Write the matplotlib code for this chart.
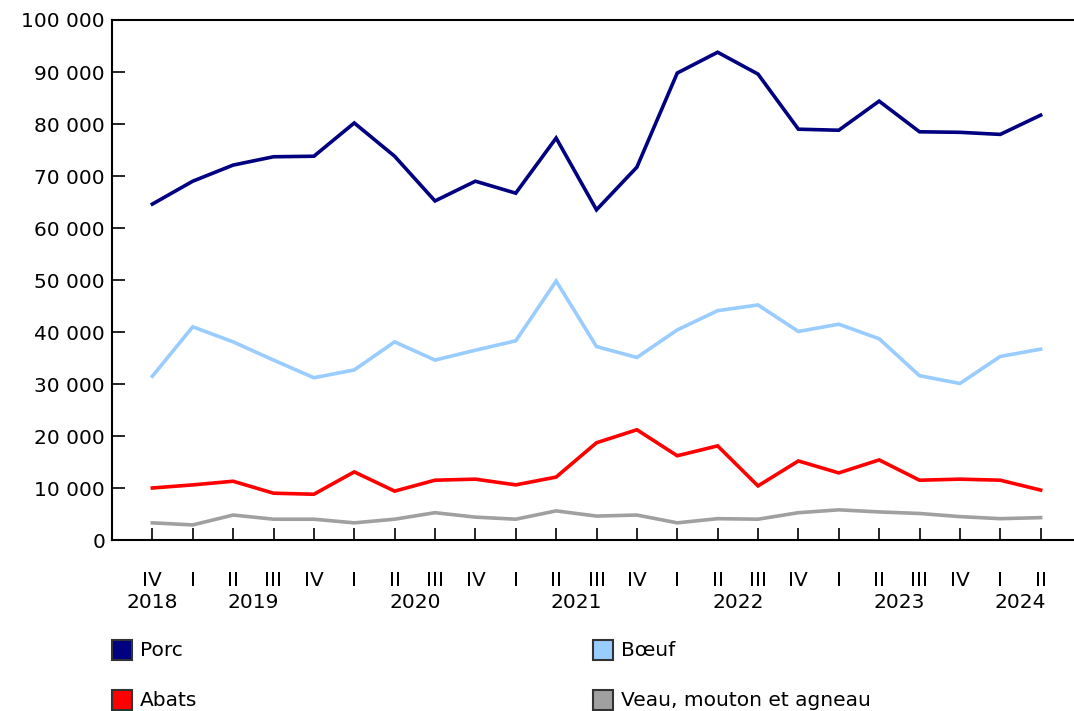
import matplotlib
matplotlib.use("Agg")
import matplotlib.pyplot as plt
from matplotlib.patches import Rectangle
from matplotlib.ticker import FuncFormatter

plt.rcParams['font.family'] = ['Verdana', 'DejaVu Sans']

quarters = ["IV", "I", "II", "III", "IV", "I", "II", "III", "IV", "I", "II", "III",
            "IV", "I", "II", "III", "IV", "I", "II", "III", "IV", "I", "II"]
years = ["2018", "2019", "2020", "2021", "2022", "2023", "2024"]
year_pos = [0, 2.5, 6.5, 10.5, 14.5, 18.5, 21.5]

porc = [64.6, 69.0, 72.1, 73.7, 73.8, 80.2, 73.8, 65.2, 69.0, 66.7, 77.3, 63.5,
        71.7, 89.8, 93.8, 89.6, 79.0, 78.8, 84.4, 78.5, 78.4, 78.0, 81.7]
boeuf = [31.5, 41.0, 38.1, 34.6, 31.2, 32.7, 38.1, 34.6, 36.5, 38.3, 49.8, 37.2,
         35.1, 40.4, 44.1, 45.2, 40.1, 41.5, 38.7, 31.6, 30.1, 35.3, 36.7]
abats = [10.0, 10.6, 11.3, 9.0, 8.8, 13.1, 9.4, 11.5, 11.7, 10.6, 12.1, 18.7,
         21.2, 16.2, 18.1, 10.4, 15.2, 12.9, 15.4, 11.5, 11.7, 11.5, 9.6]
veau = [3.3, 2.9, 4.8, 4.0, 4.0, 3.3, 4.0, 5.25, 4.4, 4.0, 5.6, 4.6,
        4.8, 3.3, 4.1, 4.0, 5.25, 5.8, 5.4, 5.1, 4.5, 4.1, 4.3]

series = [("Porc", porc, "#000080"), ("Bœuf", boeuf, "#99ccff"),
          ("Abats", abats, "#ff0000"), ("Veau, mouton et agneau", veau, "#a0a0a0")]

W, H = 1074, 711
fig = plt.figure(figsize=(W / 100, H / 100), dpi=100)
ax = fig.add_axes([112 / W, 1 - 540 / H, (1081 - 112) / W, (540 - 20) / H])

x = list(range(len(quarters)))
for name, vals, col in series:
    ax.plot(x, [v * 1000 for v in vals], color=col, lw=2.6, solid_joinstyle='miter')

ax.set_xlim(-1, 23)
ax.set_ylim(0, 100000)
ax.set_yticks(range(0, 100001, 10000))
ax.yaxis.set_major_formatter(FuncFormatter(lambda v, p: f"{int(v):,}".replace(",", " ")))
ax.set_xticks(x)
ax.set_xticklabels(quarters)
ax.tick_params(axis='both', direction='in', length=9, width=1.2, labelsize=14.5, colors='black')
ax.tick_params(axis='x', pad=22)
ax.tick_params(axis='y', pad=5)
ax.spines['right'].set_visible(False)
for s in ['left', 'top', 'bottom']:
    ax.spines[s].set_linewidth(1.5)

for yr, pos in zip(years, year_pos):
    ax.text(pos, -(603 - 540) / 520, yr, transform=ax.get_xaxis_transform(),
            ha='center', va='center', fontsize=14.5)

# legend
leg_pos = [(112, 650), (593, 650), (112, 700), (593, 700)]
for (name, vals, col), (lx, ly) in zip(series, leg_pos):
    fig.patches.append(Rectangle((lx / W, 1 - (ly + 10) / H), 20 / W, 20 / H,
                                 transform=fig.transFigure, facecolor=col,
                                 edgecolor='#333333', lw=1.5))
    fig.text((lx + 28) / W, 1 - ly / H, name, ha='left', va='center', fontsize=14.5)

fig.savefig("out.png", dpi=100)
